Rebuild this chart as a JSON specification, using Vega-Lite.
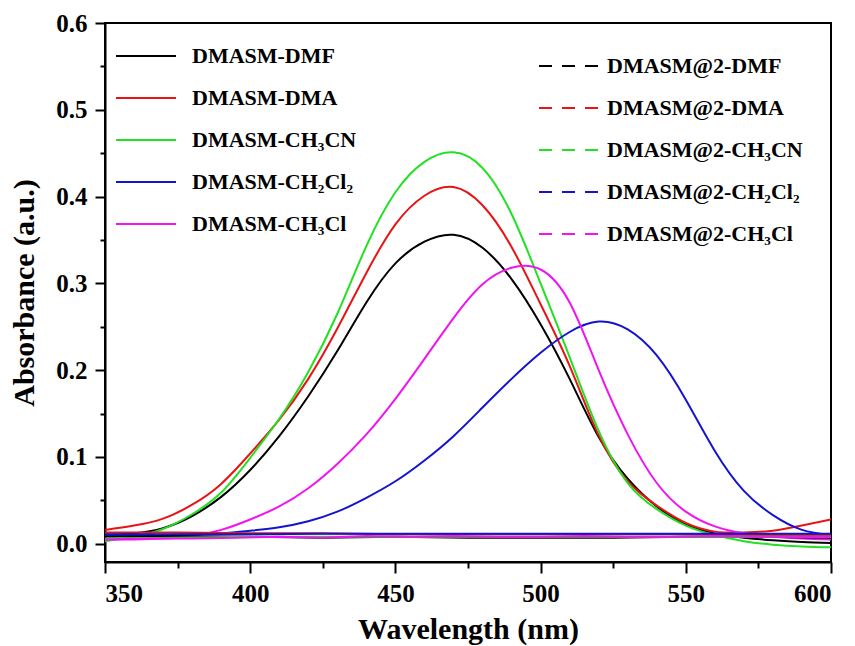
{
  "$schema": "https://vega.github.io/schema/vega-lite/v6.json",
  "width": 726,
  "height": 539,
  "autosize": {"type": "none"},
  "padding": {"left": 105, "top": 23, "right": 24, "bottom": 84},
  "background": "white",
  "config": {
    "view": {"stroke": "black", "strokeWidth": 2},
    "font": "Liberation Serif",
    "axis": {
      "domainColor": "black", "domainWidth": 2, "tickColor": "black", "tickWidth": 2,
      "labelFont": "Liberation Serif", "labelFontSize": 25, "labelFontWeight": "bold", "labelColor": "black",
      "titleFont": "Liberation Serif", "titleFontSize": 30, "titleFontWeight": "bold", "titleColor": "black",
      "grid": false
    },
    "legend": {
      "orient": "none", "padding": 0, "symbolType": "stroke", "symbolSize": 3600, "symbolStrokeWidth": 2,
      "labelFont": "Liberation Serif", "labelFontSize": 22, "labelFontWeight": "bold", "labelColor": "black",
      "labelLimit": 500, "rowPadding": -6
    }
  },
  "datasets": {
    "solid": [
      {"wl":350,"abs":0.010,"series":"DMASM-DMF"},{"wl":360,"abs":0.012,"series":"DMASM-DMF"},{"wl":370,"abs":0.018,"series":"DMASM-DMF"},{"wl":380,"abs":0.032,"series":"DMASM-DMF"},{"wl":390,"abs":0.054,"series":"DMASM-DMF"},{"wl":400,"abs":0.085,"series":"DMASM-DMF"},{"wl":410,"abs":0.124,"series":"DMASM-DMF"},{"wl":420,"abs":0.170,"series":"DMASM-DMF"},{"wl":430,"abs":0.222,"series":"DMASM-DMF"},{"wl":440,"abs":0.278,"series":"DMASM-DMF"},{"wl":450,"abs":0.323,"series":"DMASM-DMF"},{"wl":460,"abs":0.348,"series":"DMASM-DMF"},{"wl":470,"abs":0.356,"series":"DMASM-DMF"},{"wl":480,"abs":0.341,"series":"DMASM-DMF"},{"wl":490,"abs":0.305,"series":"DMASM-DMF"},{"wl":500,"abs":0.253,"series":"DMASM-DMF"},{"wl":510,"abs":0.190,"series":"DMASM-DMF"},{"wl":520,"abs":0.123,"series":"DMASM-DMF"},{"wl":530,"abs":0.075,"series":"DMASM-DMF"},{"wl":540,"abs":0.043,"series":"DMASM-DMF"},{"wl":550,"abs":0.022,"series":"DMASM-DMF"},{"wl":560,"abs":0.012,"series":"DMASM-DMF"},{"wl":570,"abs":0.007,"series":"DMASM-DMF"},{"wl":580,"abs":0.004,"series":"DMASM-DMF"},{"wl":590,"abs":0.002,"series":"DMASM-DMF"},{"wl":600,"abs":0.001,"series":"DMASM-DMF"},
      {"wl":350,"abs":0.016,"series":"DMASM-DMA"},{"wl":360,"abs":0.021,"series":"DMASM-DMA"},{"wl":370,"abs":0.029,"series":"DMASM-DMA"},{"wl":380,"abs":0.045,"series":"DMASM-DMA"},{"wl":390,"abs":0.069,"series":"DMASM-DMA"},{"wl":400,"abs":0.104,"series":"DMASM-DMA"},{"wl":410,"abs":0.143,"series":"DMASM-DMA"},{"wl":420,"abs":0.190,"series":"DMASM-DMA"},{"wl":430,"abs":0.248,"series":"DMASM-DMA"},{"wl":440,"abs":0.312,"series":"DMASM-DMA"},{"wl":450,"abs":0.368,"series":"DMASM-DMA"},{"wl":460,"abs":0.401,"series":"DMASM-DMA"},{"wl":470,"abs":0.411,"series":"DMASM-DMA"},{"wl":480,"abs":0.390,"series":"DMASM-DMA"},{"wl":490,"abs":0.342,"series":"DMASM-DMA"},{"wl":500,"abs":0.276,"series":"DMASM-DMA"},{"wl":510,"abs":0.205,"series":"DMASM-DMA"},{"wl":520,"abs":0.125,"series":"DMASM-DMA"},{"wl":530,"abs":0.072,"series":"DMASM-DMA"},{"wl":540,"abs":0.044,"series":"DMASM-DMA"},{"wl":550,"abs":0.024,"series":"DMASM-DMA"},{"wl":560,"abs":0.014,"series":"DMASM-DMA"},{"wl":570,"abs":0.013,"series":"DMASM-DMA"},{"wl":580,"abs":0.015,"series":"DMASM-DMA"},{"wl":590,"abs":0.021,"series":"DMASM-DMA"},{"wl":600,"abs":0.028,"series":"DMASM-DMA"},
      {"wl":350,"abs":0.003,"series":"DMASM-CH₃CN"},{"wl":360,"abs":0.008,"series":"DMASM-CH₃CN"},{"wl":370,"abs":0.017,"series":"DMASM-CH₃CN"},{"wl":380,"abs":0.034,"series":"DMASM-CH₃CN"},{"wl":390,"abs":0.059,"series":"DMASM-CH₃CN"},{"wl":400,"abs":0.099,"series":"DMASM-CH₃CN"},{"wl":410,"abs":0.144,"series":"DMASM-CH₃CN"},{"wl":420,"abs":0.198,"series":"DMASM-CH₃CN"},{"wl":430,"abs":0.265,"series":"DMASM-CH₃CN"},{"wl":440,"abs":0.343,"series":"DMASM-CH₃CN"},{"wl":450,"abs":0.405,"series":"DMASM-CH₃CN"},{"wl":460,"abs":0.440,"series":"DMASM-CH₃CN"},{"wl":470,"abs":0.451,"series":"DMASM-CH₃CN"},{"wl":480,"abs":0.433,"series":"DMASM-CH₃CN"},{"wl":490,"abs":0.380,"series":"DMASM-CH₃CN"},{"wl":500,"abs":0.300,"series":"DMASM-CH₃CN"},{"wl":510,"abs":0.215,"series":"DMASM-CH₃CN"},{"wl":520,"abs":0.130,"series":"DMASM-CH₃CN"},{"wl":530,"abs":0.070,"series":"DMASM-CH₃CN"},{"wl":540,"abs":0.040,"series":"DMASM-CH₃CN"},{"wl":550,"abs":0.021,"series":"DMASM-CH₃CN"},{"wl":560,"abs":0.010,"series":"DMASM-CH₃CN"},{"wl":570,"abs":0.003,"series":"DMASM-CH₃CN"},{"wl":580,"abs":-0.001,"series":"DMASM-CH₃CN"},{"wl":590,"abs":-0.003,"series":"DMASM-CH₃CN"},{"wl":600,"abs":-0.004,"series":"DMASM-CH₃CN"},
      {"wl":350,"abs":0.010,"series":"DMASM-CH₂Cl₂"},{"wl":360,"abs":0.010,"series":"DMASM-CH₂Cl₂"},{"wl":370,"abs":0.010,"series":"DMASM-CH₂Cl₂"},{"wl":380,"abs":0.011,"series":"DMASM-CH₂Cl₂"},{"wl":390,"abs":0.012,"series":"DMASM-CH₂Cl₂"},{"wl":400,"abs":0.015,"series":"DMASM-CH₂Cl₂"},{"wl":410,"abs":0.019,"series":"DMASM-CH₂Cl₂"},{"wl":420,"abs":0.026,"series":"DMASM-CH₂Cl₂"},{"wl":430,"abs":0.037,"series":"DMASM-CH₂Cl₂"},{"wl":440,"abs":0.053,"series":"DMASM-CH₂Cl₂"},{"wl":450,"abs":0.072,"series":"DMASM-CH₂Cl₂"},{"wl":460,"abs":0.096,"series":"DMASM-CH₂Cl₂"},{"wl":470,"abs":0.124,"series":"DMASM-CH₂Cl₂"},{"wl":480,"abs":0.157,"series":"DMASM-CH₂Cl₂"},{"wl":490,"abs":0.190,"series":"DMASM-CH₂Cl₂"},{"wl":500,"abs":0.220,"series":"DMASM-CH₂Cl₂"},{"wl":510,"abs":0.244,"series":"DMASM-CH₂Cl₂"},{"wl":520,"abs":0.256,"series":"DMASM-CH₂Cl₂"},{"wl":530,"abs":0.247,"series":"DMASM-CH₂Cl₂"},{"wl":540,"abs":0.217,"series":"DMASM-CH₂Cl₂"},{"wl":550,"abs":0.166,"series":"DMASM-CH₂Cl₂"},{"wl":560,"abs":0.107,"series":"DMASM-CH₂Cl₂"},{"wl":570,"abs":0.061,"series":"DMASM-CH₂Cl₂"},{"wl":580,"abs":0.033,"series":"DMASM-CH₂Cl₂"},{"wl":590,"abs":0.016,"series":"DMASM-CH₂Cl₂"},{"wl":600,"abs":0.010,"series":"DMASM-CH₂Cl₂"},
      {"wl":350,"abs":0.005,"series":"DMASM-CH₃Cl"},{"wl":360,"abs":0.005,"series":"DMASM-CH₃Cl"},{"wl":370,"abs":0.006,"series":"DMASM-CH₃Cl"},{"wl":380,"abs":0.009,"series":"DMASM-CH₃Cl"},{"wl":390,"abs":0.016,"series":"DMASM-CH₃Cl"},{"wl":400,"abs":0.028,"series":"DMASM-CH₃Cl"},{"wl":410,"abs":0.043,"series":"DMASM-CH₃Cl"},{"wl":420,"abs":0.064,"series":"DMASM-CH₃Cl"},{"wl":430,"abs":0.092,"series":"DMASM-CH₃Cl"},{"wl":440,"abs":0.126,"series":"DMASM-CH₃Cl"},{"wl":450,"abs":0.167,"series":"DMASM-CH₃Cl"},{"wl":460,"abs":0.213,"series":"DMASM-CH₃Cl"},{"wl":470,"abs":0.260,"series":"DMASM-CH₃Cl"},{"wl":480,"abs":0.299,"series":"DMASM-CH₃Cl"},{"wl":490,"abs":0.318,"series":"DMASM-CH₃Cl"},{"wl":500,"abs":0.316,"series":"DMASM-CH₃Cl"},{"wl":510,"abs":0.278,"series":"DMASM-CH₃Cl"},{"wl":520,"abs":0.200,"series":"DMASM-CH₃Cl"},{"wl":530,"abs":0.126,"series":"DMASM-CH₃Cl"},{"wl":540,"abs":0.070,"series":"DMASM-CH₃Cl"},{"wl":550,"abs":0.037,"series":"DMASM-CH₃Cl"},{"wl":560,"abs":0.020,"series":"DMASM-CH₃Cl"},{"wl":570,"abs":0.012,"series":"DMASM-CH₃Cl"},{"wl":580,"abs":0.008,"series":"DMASM-CH₃Cl"},{"wl":590,"abs":0.006,"series":"DMASM-CH₃Cl"},{"wl":600,"abs":0.005,"series":"DMASM-CH₃Cl"}
    ],
    "flat": [
      {"wl":350,"abs":0.008,"series":"DMASM@2-DMF"},{"wl":375,"abs":0.009,"series":"DMASM@2-DMF"},{"wl":400,"abs":0.008,"series":"DMASM@2-DMF"},{"wl":425,"abs":0.007,"series":"DMASM@2-DMF"},{"wl":450,"abs":0.008,"series":"DMASM@2-DMF"},{"wl":475,"abs":0.007,"series":"DMASM@2-DMF"},{"wl":500,"abs":0.007,"series":"DMASM@2-DMF"},{"wl":525,"abs":0.007,"series":"DMASM@2-DMF"},{"wl":550,"abs":0.008,"series":"DMASM@2-DMF"},{"wl":575,"abs":0.008,"series":"DMASM@2-DMF"},{"wl":600,"abs":0.007,"series":"DMASM@2-DMF"},
      {"wl":350,"abs":0.013,"series":"DMASM@2-DMA"},{"wl":375,"abs":0.013,"series":"DMASM@2-DMA"},{"wl":400,"abs":0.012,"series":"DMASM@2-DMA"},{"wl":425,"abs":0.012,"series":"DMASM@2-DMA"},{"wl":450,"abs":0.011,"series":"DMASM@2-DMA"},{"wl":475,"abs":0.011,"series":"DMASM@2-DMA"},{"wl":500,"abs":0.011,"series":"DMASM@2-DMA"},{"wl":525,"abs":0.011,"series":"DMASM@2-DMA"},{"wl":550,"abs":0.011,"series":"DMASM@2-DMA"},{"wl":575,"abs":0.010,"series":"DMASM@2-DMA"},{"wl":600,"abs":0.010,"series":"DMASM@2-DMA"},
      {"wl":350,"abs":0.006,"series":"DMASM@2-CH₃CN"},{"wl":375,"abs":0.007,"series":"DMASM@2-CH₃CN"},{"wl":400,"abs":0.008,"series":"DMASM@2-CH₃CN"},{"wl":425,"abs":0.008,"series":"DMASM@2-CH₃CN"},{"wl":450,"abs":0.008,"series":"DMASM@2-CH₃CN"},{"wl":475,"abs":0.008,"series":"DMASM@2-CH₃CN"},{"wl":500,"abs":0.008,"series":"DMASM@2-CH₃CN"},{"wl":525,"abs":0.008,"series":"DMASM@2-CH₃CN"},{"wl":550,"abs":0.008,"series":"DMASM@2-CH₃CN"},{"wl":575,"abs":0.008,"series":"DMASM@2-CH₃CN"},{"wl":600,"abs":0.008,"series":"DMASM@2-CH₃CN"},
      {"wl":350,"abs":0.011,"series":"DMASM@2-CH₂Cl₂"},{"wl":375,"abs":0.011,"series":"DMASM@2-CH₂Cl₂"},{"wl":400,"abs":0.011,"series":"DMASM@2-CH₂Cl₂"},{"wl":425,"abs":0.0115,"series":"DMASM@2-CH₂Cl₂"},{"wl":450,"abs":0.0115,"series":"DMASM@2-CH₂Cl₂"},{"wl":475,"abs":0.0115,"series":"DMASM@2-CH₂Cl₂"},{"wl":500,"abs":0.0115,"series":"DMASM@2-CH₂Cl₂"},{"wl":525,"abs":0.0115,"series":"DMASM@2-CH₂Cl₂"},{"wl":550,"abs":0.0115,"series":"DMASM@2-CH₂Cl₂"},{"wl":575,"abs":0.0115,"series":"DMASM@2-CH₂Cl₂"},{"wl":600,"abs":0.0115,"series":"DMASM@2-CH₂Cl₂"},
      {"wl":350,"abs":0.005,"series":"DMASM@2-CH₃Cl"},{"wl":365,"abs":0.006,"series":"DMASM@2-CH₃Cl"},{"wl":380,"abs":0.006,"series":"DMASM@2-CH₃Cl"},{"wl":395,"abs":0.007,"series":"DMASM@2-CH₃Cl"},{"wl":410,"abs":0.008,"series":"DMASM@2-CH₃Cl"},{"wl":425,"abs":0.007,"series":"DMASM@2-CH₃Cl"},{"wl":440,"abs":0.009,"series":"DMASM@2-CH₃Cl"},{"wl":455,"abs":0.008,"series":"DMASM@2-CH₃Cl"},{"wl":470,"abs":0.009,"series":"DMASM@2-CH₃Cl"},{"wl":485,"abs":0.008,"series":"DMASM@2-CH₃Cl"},{"wl":500,"abs":0.008,"series":"DMASM@2-CH₃Cl"},{"wl":515,"abs":0.009,"series":"DMASM@2-CH₃Cl"},{"wl":530,"abs":0.008,"series":"DMASM@2-CH₃Cl"},{"wl":545,"abs":0.008,"series":"DMASM@2-CH₃Cl"},{"wl":560,"abs":0.009,"series":"DMASM@2-CH₃Cl"},{"wl":575,"abs":0.008,"series":"DMASM@2-CH₃Cl"},{"wl":590,"abs":0.008,"series":"DMASM@2-CH₃Cl"},{"wl":600,"abs":0.008,"series":"DMASM@2-CH₃Cl"}
    ]
  },
  "encoding": {
    "x": {
      "field": "wl", "type": "quantitative",
      "scale": {"domain": [350, 600], "nice": false, "zero": false},
      "axis": {
        "title": "Wavelength (nm)",
        "values": [350, 375, 400, 425, 450, 475, 500, 525, 550, 575, 600],
        "labelExpr": "datum.value % 50 === 0 ? datum.label : ''",
        "tickSize": {"condition": {"test": "datum.value % 50 === 0", "value": 11}, "value": 6},
        "labelPadding": 8, "titlePadding": 8
      }
    },
    "y": {
      "field": "abs", "type": "quantitative",
      "scale": {"domain": [-0.021, 0.6], "nice": false, "zero": false},
      "axis": {
        "title": "Absorbance (a.u.)",
        "values": [0, 0.05, 0.1, 0.15, 0.2, 0.25, 0.3, 0.35, 0.4, 0.45, 0.5, 0.55, 0.6],
        "format": ".1f",
        "labelExpr": "round(datum.value * 100) % 10 === 0 ? datum.label : ''",
        "tickSize": {"condition": {"test": "round(datum.value * 100) % 10 === 0", "value": 10}, "value": 5},
        "labelPadding": 8, "titlePadding": 16
      }
    }
  },
  "layer": [
    {
      "data": {"name": "solid"},
      "mark": {"type": "line", "strokeWidth": 2, "interpolate": "natural", "clip": true},
      "encoding": {
        "color": {
          "field": "series", "type": "nominal",
          "scale": {"domain": ["DMASM-DMF", "DMASM-DMA", "DMASM-CH₃CN", "DMASM-CH₂Cl₂", "DMASM-CH₃Cl"], "range": ["#000000", "#e81414", "#22e022", "#1414d0", "#f014f0"]},
          "legend": {"title": null, "legendX": 10, "legendY": 2, "labelOffset": 15}
        }
      }
    },
    {
      "data": {"name": "flat"},
      "mark": {"type": "line", "strokeWidth": 2, "interpolate": "linear", "clip": true},
      "encoding": {
        "color": {
          "field": "series", "type": "nominal",
          "scale": {"domain": ["DMASM@2-DMF", "DMASM@2-DMA", "DMASM@2-CH₃CN", "DMASM@2-CH₂Cl₂", "DMASM@2-CH₃Cl"], "range": ["#000000", "#e81414", "#22e022", "#1414d0", "#f014f0"]},
          "legend": {"title": null, "legendX": 433, "legendY": 12, "labelOffset": 7, "symbolDash": [13, 10]}
        }
      }
    }
  ],
  "resolve": {"scale": {"color": "independent"}, "legend": {"color": "independent"}}
}
